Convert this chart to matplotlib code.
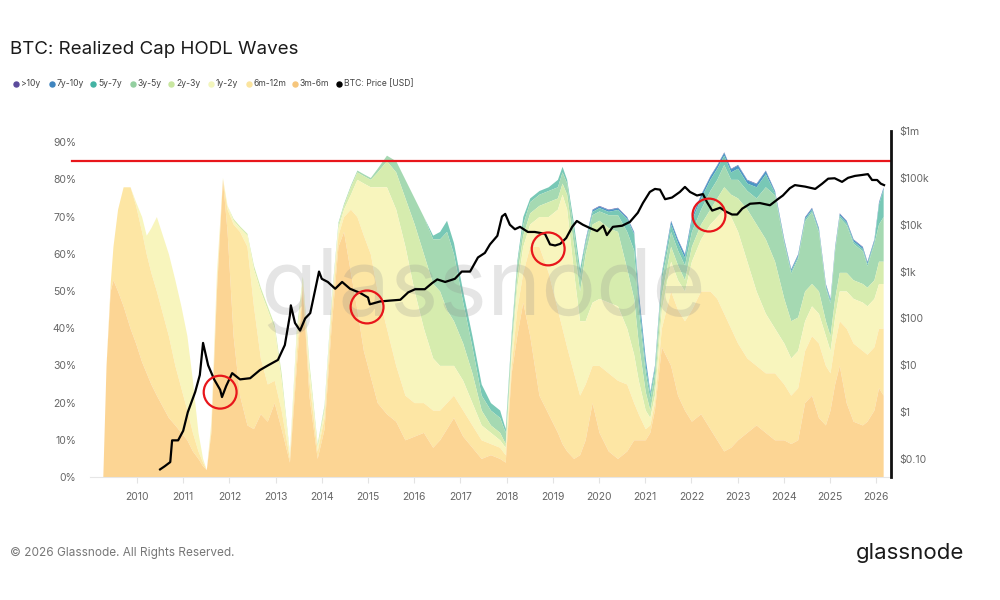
import matplotlib
matplotlib.use("Agg")
import matplotlib.pyplot as plt
from matplotlib.lines import Line2D
from matplotlib.ticker import NullLocator

plt.rcParams['font.family'] = ['Inter', 'DejaVu Sans']

# sample dates (decimal years) for the HODL bands
dates = [2009.26, 2009.33, 2009.42, 2009.48, 2009.58, 2009.70, 2009.85, 2009.97, 2010.10, 2010.20,
         2010.30, 2010.42, 2010.55, 2010.68, 2010.82, 2010.95, 2011.08, 2011.20, 2011.32, 2011.42,
         2011.50, 2011.60, 2011.72, 2011.85, 2011.95, 2012.08, 2012.22, 2012.38, 2012.52, 2012.67,
         2012.82, 2012.97, 2013.12, 2013.30, 2013.45, 2013.58, 2013.72, 2013.90, 2014.05, 2014.20,
         2014.35, 2014.47, 2014.62, 2014.76, 2014.90, 2015.05, 2015.20, 2015.40, 2015.60, 2015.80,
         2016.00, 2016.20, 2016.40, 2016.55, 2016.70, 2016.85, 2017.05, 2017.25, 2017.45, 2017.65,
         2017.85, 2017.97, 2018.10, 2018.22, 2018.35, 2018.50, 2018.70, 2018.90, 2019.10, 2019.20,
         2019.30, 2019.45, 2019.58, 2019.70, 2019.85, 2020.00, 2020.20, 2020.40, 2020.60, 2020.75,
         2020.85, 2021.00, 2021.10, 2021.20, 2021.35, 2021.55, 2021.70, 2021.85, 2022.00, 2022.20,
         2022.40, 2022.55, 2022.70, 2022.85, 2023.00, 2023.20, 2023.40, 2023.60, 2023.80, 2024.00,
         2024.15, 2024.30, 2024.45, 2024.60, 2024.75, 2024.90, 2025.00, 2025.10, 2025.20, 2025.35,
         2025.50, 2025.70, 2025.80, 2025.95, 2026.05, 2026.15]

# upper edge (%) of each stacked band
top_3m_6m = [0, 30, 50, 53, 50, 46, 40, 36, 31, 28,
             25, 22, 19, 16, 14, 12, 10, 7, 5, 3,
             2, 12, 50, 80, 66, 38, 22, 14, 13, 17,
             15, 20, 13, 4, 30, 51, 22, 5, 13, 40,
             62, 66, 55, 45, 34, 27, 20, 17, 15, 10,
             11, 12, 8, 10, 13, 16, 11, 8, 5, 6,
             5, 4, 28, 38, 47, 38, 22, 17, 12, 9,
             7, 5, 6, 10, 20, 12, 7, 5, 7, 10,
             10, 10, 12, 18, 35, 30, 22, 18, 15, 17,
             13, 10, 7, 8, 10, 12, 14, 12, 10, 10,
             9, 10, 20, 22, 16, 14, 18, 25, 30, 20,
             15, 14, 15, 18, 24, 22]
top_6m_12m = [0, 30, 52, 62, 72, 78, 78, 73, 66, 60,
              55, 50, 44, 38, 30, 24, 18, 12, 7, 4,
              2, 13, 52, 80, 72, 68, 66, 62, 46, 32,
              25, 26, 18, 5, 34, 52, 26, 7, 16, 44,
              65, 70, 72, 70, 65, 60, 50, 40, 30, 22,
              20, 20, 18, 18, 20, 22, 18, 14, 10, 9,
              8, 6, 30, 45, 55, 62, 62, 55, 45, 40,
              35, 28, 22, 25, 30, 30, 28, 26, 25, 20,
              17, 13, 14, 20, 40, 50, 45, 42, 45, 50,
              50, 48, 44, 40, 36, 32, 30, 28, 28, 25,
              22, 24, 34, 38, 36, 30, 28, 36, 42, 40,
              36, 34, 33, 35, 40, 40]
top_1y_2y = [0, 30, 52, 62, 72, 78, 78, 74, 70, 65,
             67, 70, 65, 60, 53, 46, 38, 26, 12, 5,
             2, 15, 55, 80.5, 73, 69, 67, 65, 56, 50,
             45, 40, 26, 6, 38, 53, 29, 8, 18, 46,
             67, 72, 76, 80, 79, 78, 78, 78, 72, 62,
             50, 40, 32, 30, 30, 30, 26, 20, 14, 12,
             10, 8, 33, 51, 62, 68, 70, 70, 72, 76,
             72, 55, 42, 42, 47, 48, 47, 46, 40, 33,
             26, 18, 16, 22, 45, 58, 53, 50, 58, 64,
             68, 70, 72, 70, 66, 58, 50, 44, 40, 36,
             32, 34, 42, 46, 44, 38, 34, 43, 50, 50,
             48, 47, 46, 48, 52, 52]
top_2y_3y = [0, 30, 52, 62, 72, 78, 78, 74, 70, 65,
             67, 70, 65, 60, 53, 46, 38, 26, 12, 5,
             2, 15, 55, 80.5, 73, 69.5, 67.5, 65.5, 57, 51,
             46, 41, 28, 6.5, 40, 54, 31, 9, 19, 47,
             68, 73, 78, 82, 81, 80, 82, 85, 82, 75,
             68, 60, 52, 50, 45, 42, 36, 28, 18, 14,
             12, 9, 35, 54, 65, 71, 73, 74, 75, 79,
             76, 62, 50, 60, 68, 69, 67, 66, 56, 48,
             36, 23, 18, 25, 49, 62, 57, 53, 62, 68,
             72, 75, 78, 76, 75, 72, 68, 64, 58, 48,
             42, 43, 50, 52, 50, 42, 38, 48, 55, 55,
             53, 52, 51, 53, 58, 58]
top_3y_5y = [0, 30, 52, 62, 72, 78, 78, 74, 70, 65,
             67, 70, 65, 60, 53, 46, 38, 26, 12, 5,
             2, 15, 55, 80.5, 73, 69.5, 67.5, 65.5, 57, 51,
             46, 41, 28, 6.5, 40, 54, 31, 9, 19.5, 47.5,
             68.5, 73.5, 78.5, 82.5, 81.5, 80.5, 83, 86.5, 85, 80,
             75, 70, 64, 64, 66, 60, 47, 35, 22, 18,
             16, 12, 38, 57, 68, 74, 76, 77, 78, 82,
             79, 66, 54, 62.5, 70.5, 71.5, 70.5, 70.5, 66, 61,
             45, 28, 21, 28, 53, 66, 61, 57, 66, 72,
             77, 80, 84, 80, 80, 77, 75, 78, 75.8, 62.8,
             54.8, 58.8, 68.8, 71.3, 65.8, 50.8, 46.8, 60.8, 69.8, 67.8,
             62.8, 60.8, 56.8, 62.8, 68, 70]
top_5y_7y = [0, 30, 52, 62, 72, 78, 78, 74, 70, 65,
             67, 70, 65, 60, 53, 46, 38, 26, 12, 5,
             2, 15, 55, 80.5, 73, 69.5, 67.5, 65.5, 57, 51,
             46, 41, 28, 6.5, 40, 54, 31, 9, 19.5, 47.5,
             68.5, 73.5, 78.5, 82.5, 81.5, 80.5, 83, 86.5, 85, 80,
             75, 70, 65, 66, 69, 63, 50, 38, 25, 20,
             18, 13, 39, 58, 70, 75, 77, 78, 80, 83.5,
             80, 68, 56, 63.4, 71.4, 72.4, 71.4, 71.9, 69.4, 65.4,
             48, 30, 22.5, 29.5, 54.5, 68, 63, 59, 69, 75,
             80, 83, 86.5, 82, 83, 79, 78, 81.5, 76.4, 63.4,
             55.4, 59.4, 69.4, 71.9, 66.4, 51.4, 47.4, 61.4, 70.4, 68.4,
             63.4, 61.4, 57.4, 63.4, 73.4, 77.4]
top_7y_10y = [0, 30, 52, 62, 72, 78, 78, 74, 70, 65,
              67, 70, 65, 60, 53, 46, 38, 26, 12, 5,
              2, 15, 55, 80.5, 73, 69.5, 67.5, 65.5, 57, 51,
              46, 41, 28, 6.5, 40, 54, 31, 9, 19.5, 47.5,
              68.5, 73.5, 78.5, 82.5, 81.5, 80.5, 83, 86.5, 85, 80,
              75, 70, 65, 66, 69, 63, 50, 38, 25, 20,
              18, 13, 39, 58, 70, 75, 77, 78, 80, 83.5,
              80, 68, 56, 63.85, 71.85, 72.85, 71.85, 72.35, 69.85, 65.85,
              49.85, 31.85, 22.85, 29.85, 54.85, 68.85, 63.85, 59.85, 69.85, 75.85,
              80.85, 83.85, 87.25, 82.85, 83.85, 79.85, 78.85, 82.35, 76.85, 63.85,
              55.85, 59.85, 69.85, 72.35, 66.85, 51.85, 47.85, 61.85, 70.85, 68.85,
              63.85, 61.85, 57.85, 63.85, 73.85, 77.85]
top_10y = [0, 30, 52, 62, 72, 78, 78, 74, 70, 65,
           67, 70, 65, 60, 53, 46, 38, 26, 12, 5,
           2, 15, 55, 80.5, 73, 69.5, 67.5, 65.5, 57, 51,
           46, 41, 28, 6.5, 40, 54, 31, 9, 19.5, 47.5,
           68.5, 73.5, 78.5, 82.5, 81.5, 80.5, 83, 86.5, 85, 80,
           75, 70, 65, 66, 69, 63, 50, 38, 25, 20,
           18, 13, 39, 58, 70, 75, 77, 78, 80, 83.5,
           80, 68, 56, 64, 72, 73, 72, 72.5, 70, 66,
           50, 32, 23, 30, 55, 69, 64, 60, 70, 76,
           81, 84, 87.4, 83, 84, 80, 79, 82.5, 77, 64,
           56, 60, 70, 72.5, 67, 52, 48, 62, 71, 69,
           64, 62, 58, 64, 74, 78]

band_labels = ['>10y', '7y-10y', '5y-7y', '3y-5y', '2y-3y', '1y-2y', '6m-12m', '3m-6m']
legend_colors = ['#5b4b9c', '#3f85bf', '#43b3a3', '#93cfa0', '#c8e6a0', '#f3f6bd', '#fbe49e', '#f6c67c']
area_colors = ['#5e4fa2', '#4a95c4', '#78c8b6', '#a5d9b2', '#d6ecae', '#f8f5bd', '#fde6a4', '#fcd594']

price_dates = [2010.50, 2010.60, 2010.72, 2010.76, 2010.89, 2011.00, 2011.10, 2011.26, 2011.36, 2011.43,
               2011.54, 2011.67, 2011.80, 2011.84, 2011.93, 2012.06, 2012.23, 2012.45, 2012.66, 2012.84,
               2013.05, 2013.20, 2013.31, 2013.33, 2013.42, 2013.53, 2013.64, 2013.75, 2013.87, 2013.94,
               2014.00, 2014.13, 2014.29, 2014.44, 2014.61, 2014.83, 2015.00, 2015.04, 2015.26, 2015.47,
               2015.70, 2015.87, 2016.02, 2016.23, 2016.39, 2016.50, 2016.67, 2016.88, 2017.03, 2017.21,
               2017.38, 2017.53, 2017.64, 2017.80, 2017.90, 2017.97, 2018.07, 2018.18, 2018.29, 2018.46,
               2018.61, 2018.83, 2018.94, 2019.05, 2019.16, 2019.29, 2019.42, 2019.52, 2019.65, 2019.80,
               2019.96, 2020.09, 2020.17, 2020.30, 2020.50, 2020.67, 2020.84, 2020.95, 2021.10, 2021.21,
               2021.32, 2021.43, 2021.58, 2021.75, 2021.86, 2021.97, 2022.12, 2022.25, 2022.34, 2022.45,
               2022.62, 2022.75, 2022.88, 2022.99, 2023.10, 2023.27, 2023.48, 2023.70, 2023.87, 2023.98,
               2024.13, 2024.24, 2024.46, 2024.68, 2024.83, 2024.96, 2025.10, 2025.26, 2025.39, 2025.54,
               2025.69, 2025.82, 2025.91, 2026.02, 2026.10, 2026.17]
price_usd = [0.06, 0.07, 0.086, 0.25, 0.25, 0.4, 1.0, 2.7, 6.2, 30,
             10, 5, 3, 2.1, 3.6, 6.8, 5, 5.3, 7.9, 10,
             13, 27, 117, 190, 80, 55, 100, 130, 470, 1000,
             700, 600, 430, 600, 430, 350, 280, 200, 230, 240,
             250, 360, 420, 420, 570, 680, 600, 700, 1000, 1000,
             2000, 2500, 3800, 5800, 15000, 17000, 10000, 8000, 9000, 7000,
             7000, 6400, 3800, 3600, 3900, 5200, 9000, 12000, 10000, 8500,
             7300, 9500, 6000, 9000, 9500, 11500, 18000, 29000, 50000, 58000,
             56000, 35000, 38000, 50000, 64000, 50000, 42000, 45000, 30000, 20000,
             23000, 19000, 16500, 16500, 22000, 28000, 29000, 26000, 35000, 42000,
             60000, 70000, 65000, 58000, 75000, 96000, 98000, 82000, 100000, 110000,
             115000, 120000, 90000, 90000, 75000, 70000]

# red circles on the cycle lows, and the red 85% line
circle_x = [2011.80, 2014.98, 2018.90, 2022.38]
circle_y = [22.8, 45.7, 61.3, 70.4]
threshold = 85

years = list(range(2010, 2027))
price_ticks = [0.1, 1, 10, 100, 1e3, 1e4, 1e5, 1e6]
price_labels = ['$0.10', '$1', '$10', '$100', '$1k', '$10k', '$100k', '$1m']

fig = plt.figure(figsize=(10, 6), dpi=100)
ax = fig.add_axes([0.09, 0.205, 0.801, 0.5767])

tops = [top_10y, top_7y_10y, top_5y_7y, top_3y_5y, top_2y_3y, top_1y_2y, top_6m_12m, top_3m_6m]
lowers = tops[1:] + [[0] * len(dates)]
for upper, lower, col in zip(tops, lowers, area_colors):
    ax.fill_between(dates, lower, upper, color=col, lw=0, zorder=1)

ax.set_xlim(2008.983, 2026.32)
ax.set_ylim(0, 93)
ax.set_yticks(range(0, 100, 10))
ax.set_yticklabels([f'{v}%' for v in range(0, 100, 10)])
ax.set_xticks(years)
ax.set_xticklabels([str(y) for y in years])
ax.tick_params(axis='y', length=0, pad=10, labelsize=7.5, labelcolor='#666666')
ax.tick_params(axis='x', length=4, color='#e3e3e3', pad=7, labelsize=7.5, labelcolor='#666666')
for s in ['left', 'top', 'right']:
    ax.spines[s].set_visible(False)
ax.spines['bottom'].set_color('#e6e6e6')

ax.plot([2008.59, 2026.32], [threshold, threshold], color='#e8161b', lw=1.6, clip_on=False, zorder=3)

ax.text(2017.5, 50, 'glassnode', fontsize=66, color='#8a8a8a', alpha=0.22,
        ha='center', va='center', zorder=2)

ax2 = ax.twinx()
ax2.set_yscale('log')
ax2.set_ylim(0.0413, 1e6)
ax2.plot(price_dates, price_usd, color='black', lw=1.6, zorder=4)
ax2.set_yticks(price_ticks)
ax2.set_yticklabels(price_labels)
ax2.yaxis.set_minor_locator(NullLocator())
ax2.tick_params(axis='y', length=0, pad=6, labelsize=7.5, labelcolor='#666666')
for s in ['left', 'top', 'bottom']:
    ax2.spines[s].set_visible(False)
ax2.spines['right'].set_linewidth(2)
ax2.spines['right'].set_color('#111111')

# circles on top of the price line
ax3 = fig.add_axes(ax.get_position(), sharex=ax, sharey=ax)
ax3.axis('off')
ax3.scatter(circle_x, circle_y, s=560, facecolors='none', edgecolors='#e8161b',
            linewidths=1.6, zorder=5)

fig.text(0.01, 0.917, 'BTC: Realized Cap HODL Waves', fontsize=13.5, color='#1a1a1a', va='center')

# legend row, placed by hand like the original
legend_names = band_labels + ['BTC: Price [USD]']
legend_dots = legend_colors + ['black']
legend_px = [16, 52, 93, 133, 171, 211, 249, 295, 339]
for px, name, col in zip(legend_px, legend_names, legend_dots):
    fig.add_artist(Line2D([px / 1000], [0.86], transform=fig.transFigure, marker='o',
                          ls='', color=col, markersize=3.6))
    fig.text((px + 5) / 1000, 0.86, name, fontsize=6.2, color='#444444', va='center')

fig.text(0.01, 0.078, '\u00a9 2026 Glassnode. All Rights Reserved.', fontsize=8.5,
         color='#777777', va='center')
fig.text(0.964, 0.078, 'glassnode', fontsize=16, color='#1a1a1a', va='center', ha='right')

fig.savefig('out.png', dpi=100, facecolor='white')
